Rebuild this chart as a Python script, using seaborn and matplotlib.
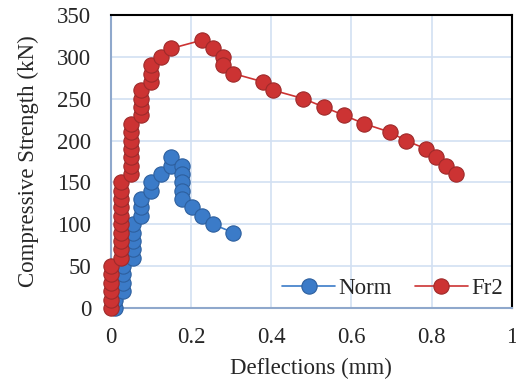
import matplotlib
matplotlib.use("Agg")
import matplotlib.pyplot as plt
import pandas as pd
import seaborn as sns

# Norm series (deflection mm, strength kN)
norm_x = [0.01, 0.01, 0.01, 0.03, 0.03, 0.03, 0.03, 0.055, 0.055, 0.055, 0.055, 0.055,
          0.076, 0.076, 0.076, 0.10, 0.10, 0.125, 0.15, 0.15,
          0.176, 0.176, 0.176, 0.176, 0.176, 0.202, 0.228, 0.254, 0.305]
norm_y = [0, 10, 20, 20, 30, 40, 50, 60, 70, 80, 90, 100,
          110, 120, 130, 140, 150, 160, 170, 180,
          170, 160, 150, 140, 130, 120, 110, 100, 90]

# Fr2 series
fr2_x = [0.0] * 6 + [0.025] * 10 + [0.05] * 7 + [0.075] * 4 + [0.10] * 3 + \
        [0.125, 0.151, 0.228, 0.254, 0.279, 0.279, 0.305, 0.38, 0.405, 0.48,
         0.531, 0.582, 0.632, 0.696, 0.735, 0.786, 0.81, 0.835, 0.86]
fr2_y = list(range(0, 60, 10)) + list(range(60, 160, 10)) + list(range(160, 230, 10)) + \
        list(range(230, 270, 10)) + list(range(270, 300, 10)) + \
        [300, 310, 320, 310, 300, 290, 280, 270, 260, 250,
         240, 230, 220, 210, 200, 190, 180, 170, 160]

x_ticks = [0, 0.2, 0.4, 0.6, 0.8, 1]
x_tick_labels = ["0", "0.2", "0.4", "0.6", "0.8", "1"]
y_ticks = list(range(0, 351, 50))

df = pd.concat([
    pd.DataFrame({"x": norm_x, "y": norm_y, "series": "Norm"}),
    pd.DataFrame({"x": fr2_x, "y": fr2_y, "series": "Fr2"}),
])

sns.set_style("white")
plt.rcParams["font.family"] = ["Liberation Serif", "DejaVu Serif"]

fig = plt.figure(figsize=(5.16, 3.83), dpi=100)
ax = fig.add_axes([0.215, 0.196, 0.777, 0.765])

colors = {"Norm": "#3B7BC8", "Fr2": "#CC3333"}
edges = {"Norm": "#2D5F9E", "Fr2": "#9E2A2A"}
for name in ["Norm", "Fr2"]:
    sub = df[df["series"] == name]
    sns.lineplot(data=sub, x="x", y="y", sort=False, estimator=None, ax=ax,
                 color=colors[name], linewidth=1.2, marker="o", markersize=11,
                 markerfacecolor=colors[name], markeredgecolor=edges[name],
                 markeredgewidth=0.8, label=name, clip_on=False, zorder=3)

ax.set_xlim(0, 1)
ax.set_ylim(0, 350)
ax.set_xticks(x_ticks)
ax.set_xticklabels(x_tick_labels)
ax.set_yticks(y_ticks)
ax.tick_params(length=0, labelsize=16.5, pad=14)
ax.grid(True, color="#D2E0F2", linewidth=1.2)
ax.set_axisbelow(True)

for side in ["left", "bottom"]:
    ax.spines[side].set_color("#8FA8CC")
    ax.spines[side].set_linewidth(1.5)
for side in ["top", "right"]:
    ax.spines[side].set_color("black")
    ax.spines[side].set_linewidth(1.5)

ax.set_xlabel("Deflections (mm)", fontsize=16.5, labelpad=7)
ax.set_ylabel("Compressive Strength (kN)", fontsize=16.5, labelpad=13)

ax.legend(loc="lower right", ncol=2, frameon=False, fontsize=16.5,
          handlelength=2.3, columnspacing=1.0, handletextpad=0.15,
          borderaxespad=0.0, bbox_to_anchor=(1.0, 0.0))

fig.savefig("out.png", dpi=100)
